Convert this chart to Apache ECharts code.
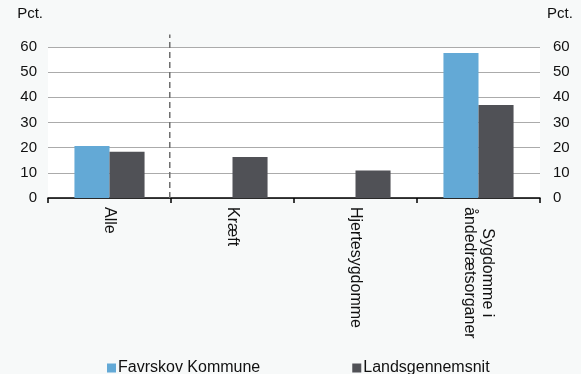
<!DOCTYPE html>
<html>
<head>
<meta charset="utf-8">
<script src="https://cdn.jsdelivr.net/npm/echarts@6/dist/echarts.min.js"></script>
<style>
html,body{margin:0;padding:0;background:#F7F9F9;}
#c{width:581px;height:374px;}
</style>
</head>
<body>
<div id="c"></div>
<script>
const categories = ['Alle', 'Kræft', 'Hjertesygdomme', 'Sygdomme i\nåndedrætsorganer'];
const seriesNames = ['Favrskov Kommune', 'Landsgennemsnit'];
const favrskov = [20.7, null, null, 57.6];
const landsgennemsnit = [18.4, 16.3, 10.9, 37.0];
const yTicks = { min: 0, max: 60, interval: 10 };
const dividerAt = [[0.99, 0], [0.99, 65]];

const font = 'Liberation Sans, Arial, sans-serif';
const chart = echarts.init(document.getElementById('c'));
chart.setOption({
  backgroundColor: '#F7F9F9',
  animation: false,
  textStyle: { fontFamily: font },
  grid: { left: 48, right: 41, top: 47, bottom: 176, show: true, backgroundColor: '#FFFFFF', borderWidth: 0 },
  legend: {
    data: seriesNames,
    left: 102, top: 355,
    itemWidth: 9, itemHeight: 9, itemGap: 92,
    icon: 'rect',
    textStyle: { fontSize: 16, color: '#111', fontFamily: font, padding: [0, 0, 0, -3] }
  },
  xAxis: [{
    type: 'category',
    data: categories,
    axisLine: { lineStyle: { color: '#000', width: 1.5 } },
    axisTick: { show: true, length: 5, lineStyle: { color: '#000', width: 1.5 } },
    axisLabel: {
      interval: 0, rotate: -90, margin: 9,
      fontSize: 16, color: '#111', fontFamily: font,
      formatter: function (v) { return v.split('\n').map(function (s) { return '{c|' + s + '}'; }).join('\n'); },
      rich: { c: { align: 'center', fontSize: 16, color: '#111', fontFamily: font, lineHeight: 18 } }
    }
  }, {
    type: 'value', min: 0, max: 4, show: false
  }],
  yAxis: [{
    type: 'value', min: yTicks.min, max: yTicks.max, interval: yTicks.interval,
    name: 'Pct.', nameLocation: 'end', nameGap: 26,
    nameTextStyle: { fontSize: 15, color: '#111', align: 'right', padding: [0, 5, 0, 0] },
    axisLine: { show: false }, axisTick: { show: false },
    axisLabel: { fontSize: 15, color: '#111', margin: 11 },
    splitLine: { lineStyle: { color: '#ABABAB', width: 1.2 } }
  }, {
    type: 'value', min: yTicks.min, max: yTicks.max, interval: yTicks.interval, position: 'right',
    name: 'Pct.', nameLocation: 'end', nameGap: 26,
    nameTextStyle: { fontSize: 15, color: '#111', align: 'left', padding: [0, 0, 0, 7] },
    axisLine: { show: false }, axisTick: { show: false },
    axisLabel: { fontSize: 15, color: '#111', margin: 13 },
    splitLine: { show: false }
  }],
  series: [{
    name: seriesNames[0], type: 'bar', data: favrskov,
    barGap: '0%', barCategoryGap: '43%',
    itemStyle: { color: '#63A9D6' }
  }, {
    name: seriesNames[1], type: 'bar', data: landsgennemsnit,
    barGap: '0%', barCategoryGap: '43%',
    itemStyle: { color: '#505156' }
  }, {
    type: 'line', xAxisIndex: 1, yAxisIndex: 0, data: dividerAt,
    symbol: 'none', clip: false, silent: true,
    lineStyle: { color: '#6E6E6E', width: 1.5, type: [6, 4] }
  }]
});
</script>
</body>
</html>
